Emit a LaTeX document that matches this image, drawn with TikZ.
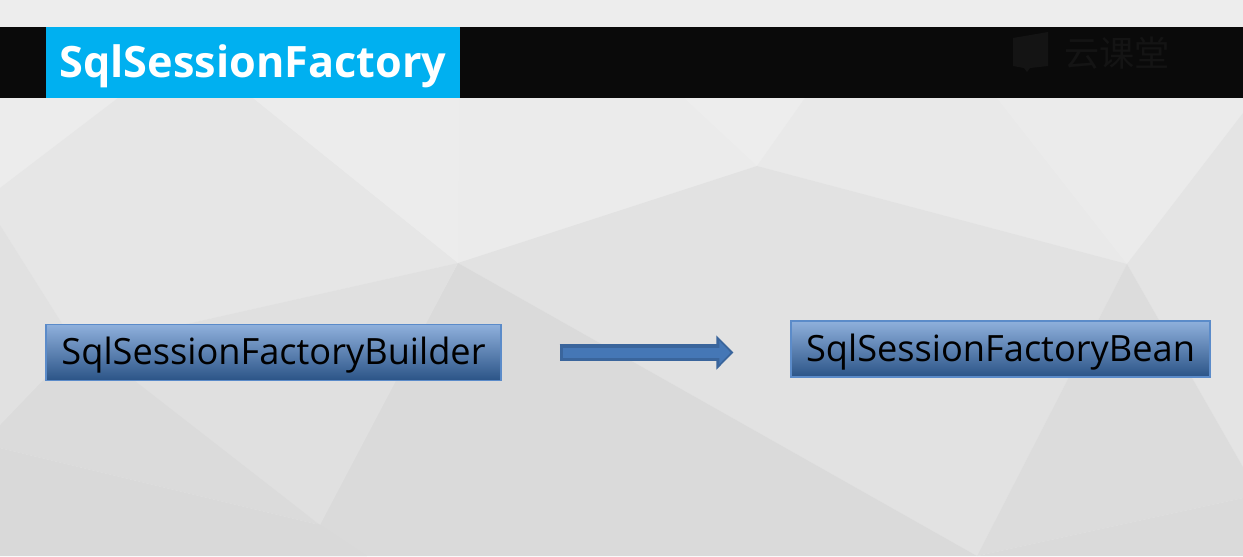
\documentclass[tikz,border=0pt]{standalone}
\usepackage{fontspec}
\setmainfont{Open Sans}
\newfontfamily\cjkfont{Noto Sans CJK SC}
\usetikzlibrary{arrows.meta}
\definecolor{bandblack}{HTML}{0A0A0A}
\definecolor{titleblue}{HTML}{00B0F0}
\definecolor{markgrey}{HTML}{141414}
\definecolor{arrowdark}{HTML}{3A659C}
\definecolor{arrowblue}{HTML}{4577B6}
\definecolor{boxtop}{HTML}{8FB0DC}
\definecolor{boxmid}{HTML}{4F7FBC}
\definecolor{boxbottom}{HTML}{2B5487}
\definecolor{boxline}{HTML}{5B8BC9}
\tikzset{
  facet/.style={fill={rgb,255:red,#1;green,#1;blue,#1}, draw=none},
  classbox/.style={draw=boxline, line width=0.6pt, top color=boxtop, middle color=boxmid, bottom color=boxbottom, inner sep=0pt, text=black, text height=16pt, text depth=2.2pt, font=\fontsize{20.6pt}{25pt}\selectfont},
}
\begin{document}
\begin{tikzpicture}[x=0.02cm, y=-0.02cm]
  \useasboundingbox (0,0) rectangle (1243,556);
  \fill[facet=237] (0,0) rectangle (1243,556);

  % background facets
  \fill[facet=236] (0,98) -- (118,98) -- (0,188) -- cycle;
  \fill[facet=230] (0,188) -- (118,98) -- (253,98) -- (458,263) -- (182,325) -- (63,325) -- (0,225) -- cycle;
  \fill[facet=236] (253,98) -- (460,98) -- (458,263) -- cycle;
  \fill[facet=235] (460,98) -- (684,98) -- (757,166) -- (458,263) -- cycle;
  \fill[facet=237] (684,98) -- (805,98) -- (757,166) -- cycle;
  \fill[facet=233] (805,98) -- (997,98) -- (1127,264) -- (757,166) -- cycle;
  \fill[facet=235] (997,98) -- (1243,98) -- (1243,113) -- (1127,264) -- cycle;
  \fill[facet=228] (1243,113) -- (1243,467) -- (1127,264) -- cycle;
  \fill[facet=226] (458,263) -- (757,166) -- (1127,264) -- (977,556) -- cycle;
  \fill[facet=220] (1127,264) -- (1243,467) -- (1243,498) -- (977,556) -- cycle;
  \fill[facet=218] (977,556) -- (1243,498) -- (1243,556) -- cycle;
  \fill[facet=218] (458,263) -- (977,556) -- (300,556) -- cycle;
  \fill[facet=224] (182,325) -- (458,263) -- (320,525) -- (60,328) -- cycle;
  \fill[facet=219] (63,325) -- (320,525) -- (0,448) -- (0,425) -- cycle;
  \fill[facet=225] (0,225) -- (63,325) -- (96,325) -- (0,425) -- cycle;
  \fill[facet=217] (0,448) -- (320,525) -- (300,556) -- (0,556) -- cycle;
  \fill[facet=217] (320,525) -- (367,556) -- (300,556) -- cycle;

  \fill[bandblack] (0,27) rectangle (1243,98);

  \node[fill=titleblue, text=white, minimum width=414*0.02cm, minimum height=71*0.02cm, inner sep=0pt, text height=20pt, text depth=2.4pt, font=\fontsize{24.6pt}{29pt}\selectfont\bfseries] (title) at (253,62.5) {SqlSessionFactory};

  % faint logo in the band
  \fill[markgrey] (1013,38) -- (1048,32) -- (1048,66) -- (1030,68) -- (1027,72) -- (1024,68) -- (1013,66) -- cycle;
  \node[text=markgrey, inner sep=0pt, font=\cjkfont\fontsize{20pt}{24pt}\selectfont] (mark) at (1117,53) {云课堂};

  \node[classbox, minimum width=455*0.02cm, minimum height=56*0.02cm] (builder) at (273.5,352.5) {SqlSessionFactoryBuilder};
  \node[classbox, minimum width=419*0.02cm, minimum height=56*0.02cm] (bean) at (1000.5,349) {SqlSessionFactoryBean};

  \draw[arrowdark, line width=17*0.02cm, -{Triangle[length=17*0.02cm, width=33*0.02cm]}, shorten <=58*0.02cm, shorten >=57*0.02cm] (builder.east) -- (bean.west |- builder.east);
  \draw[arrowblue, line width=10*0.02cm, -{Triangle[length=11*0.02cm, width=22*0.02cm]}, shorten <=61*0.02cm, shorten >=60*0.02cm] (builder.east) -- (bean.west |- builder.east);
\end{tikzpicture}
\end{document}
